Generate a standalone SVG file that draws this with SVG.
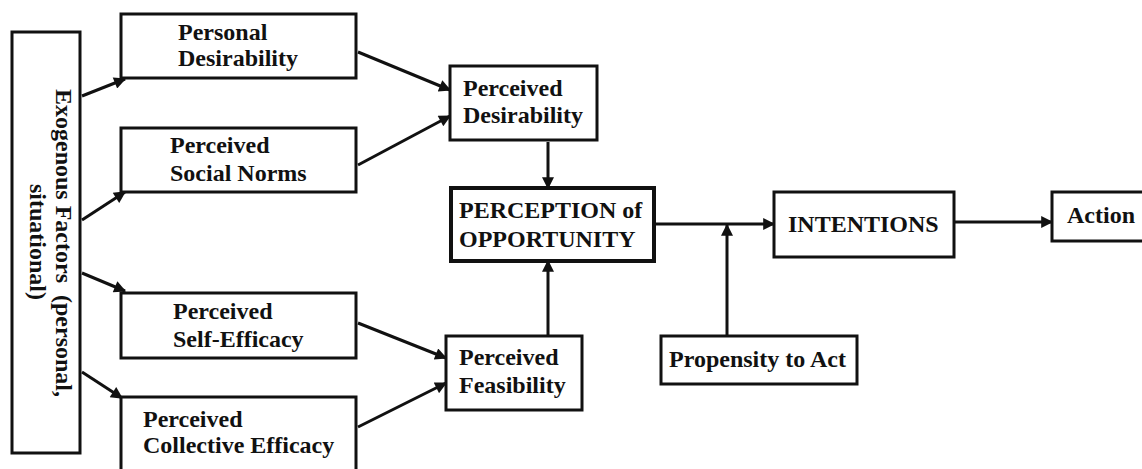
<svg xmlns="http://www.w3.org/2000/svg" width="1142" height="469" viewBox="0 0 1142 469">
<defs>
<style>
.box{fill:#fff;stroke:#111;stroke-width:3}
.thick{stroke-width:4}
.t{font-weight:bold;font-size:24px;fill:#111}
.c{fill:none;stroke:#111;stroke-width:3}
</style>
<marker id="ah" viewBox="0 0 10 10" refX="9" refY="5" markerWidth="4.5" markerHeight="4" markerUnits="strokeWidth" orient="auto">
<path d="M0,0 L10,5 L0,10 z" fill="#111"/>
</marker>
</defs>
<rect width="1142" height="469" fill="#fff"/>
<g id="connectors">
<line class="c" x1="82" y1="96" x2="125" y2="79" marker-end="url(#ah)"/>
<line class="c" x1="82" y1="220" x2="125" y2="192" marker-end="url(#ah)"/>
<line class="c" x1="82" y1="273" x2="125" y2="291" marker-end="url(#ah)"/>
<line class="c" x1="82" y1="372" x2="122" y2="398" marker-end="url(#ah)"/>
<line class="c" x1="358" y1="52" x2="450" y2="90" marker-end="url(#ah)"/>
<line class="c" x1="358" y1="165" x2="450" y2="116" marker-end="url(#ah)"/>
<line class="c" x1="358" y1="323" x2="446" y2="358" marker-end="url(#ah)"/>
<line class="c" x1="358" y1="427" x2="446" y2="383" marker-end="url(#ah)"/>
<line class="c" x1="548" y1="142" x2="548" y2="188" marker-end="url(#ah)"/>
<line class="c" x1="548" y1="336" x2="548" y2="261" marker-end="url(#ah)"/>
<line class="c" x1="655" y1="224" x2="774" y2="224" marker-end="url(#ah)"/>
<line class="c" x1="727" y1="336" x2="727" y2="225" marker-end="url(#ah)"/>
<line class="c" x1="955" y1="222" x2="1052" y2="222" marker-end="url(#ah)"/>
</g>
<g font-family="'Liberation Serif', 'Times New Roman', serif">
<g id="exogenous">
<rect class="box" x="12" y="32" width="68" height="421"/>
<text class="t" transform="translate(56,243) rotate(90)" text-anchor="middle" xml:space="preserve">Exogenous Factors  (personal,</text>
<text class="t" transform="translate(30,242) rotate(90)" text-anchor="middle">situational)</text>
</g>
<g id="personal-desirability">
<rect class="box" x="121" y="14" width="235" height="64"/>
<text class="t" x="178" y="40">Personal</text>
<text class="t" x="178" y="66">Desirability</text>
</g>
<g id="social-norms">
<rect class="box" x="121" y="128" width="235" height="64"/>
<text class="t" x="170" y="153">Perceived</text>
<text class="t" x="170" y="181">Social Norms</text>
</g>
<g id="self-efficacy">
<rect class="box" x="121" y="293" width="235" height="65"/>
<text class="t" x="173" y="319">Perceived</text>
<text class="t" x="173" y="347">Self-Efficacy</text>
</g>
<g id="collective-efficacy">
<rect class="box" x="121" y="397" width="235" height="80"/>
<text class="t" x="143" y="427">Perceived</text>
<text class="t" x="143" y="453">Collective Efficacy</text>
</g>
<g id="perceived-desirability">
<rect class="box" x="450" y="66" width="147" height="74"/>
<text class="t" x="463" y="96">Perceived</text>
<text class="t" x="463" y="123">Desirability</text>
</g>
<g id="perception">
<rect class="box thick" x="451" y="188" width="203" height="73"/>
<text class="t" x="459" y="218">PERCEPTION of</text>
<text class="t" x="459" y="247">OPPORTUNITY</text>
</g>
<g id="perceived-feasibility">
<rect class="box" x="446" y="336" width="136" height="74"/>
<text class="t" x="459" y="365">Perceived</text>
<text class="t" x="459" y="393">Feasibility</text>
</g>
<g id="propensity">
<rect class="box" x="661" y="336" width="196" height="48"/>
<text class="t" x="669" y="367">Propensity to Act</text>
</g>
<g id="intentions">
<rect class="box" x="774" y="192" width="180" height="65"/>
<text class="t" x="788" y="232">INTENTIONS</text>
</g>
<g id="action">
<rect class="box" x="1052" y="192" width="95" height="49"/>
<text class="t" x="1067" y="223">Action</text>
</g>
</g>
</svg>
